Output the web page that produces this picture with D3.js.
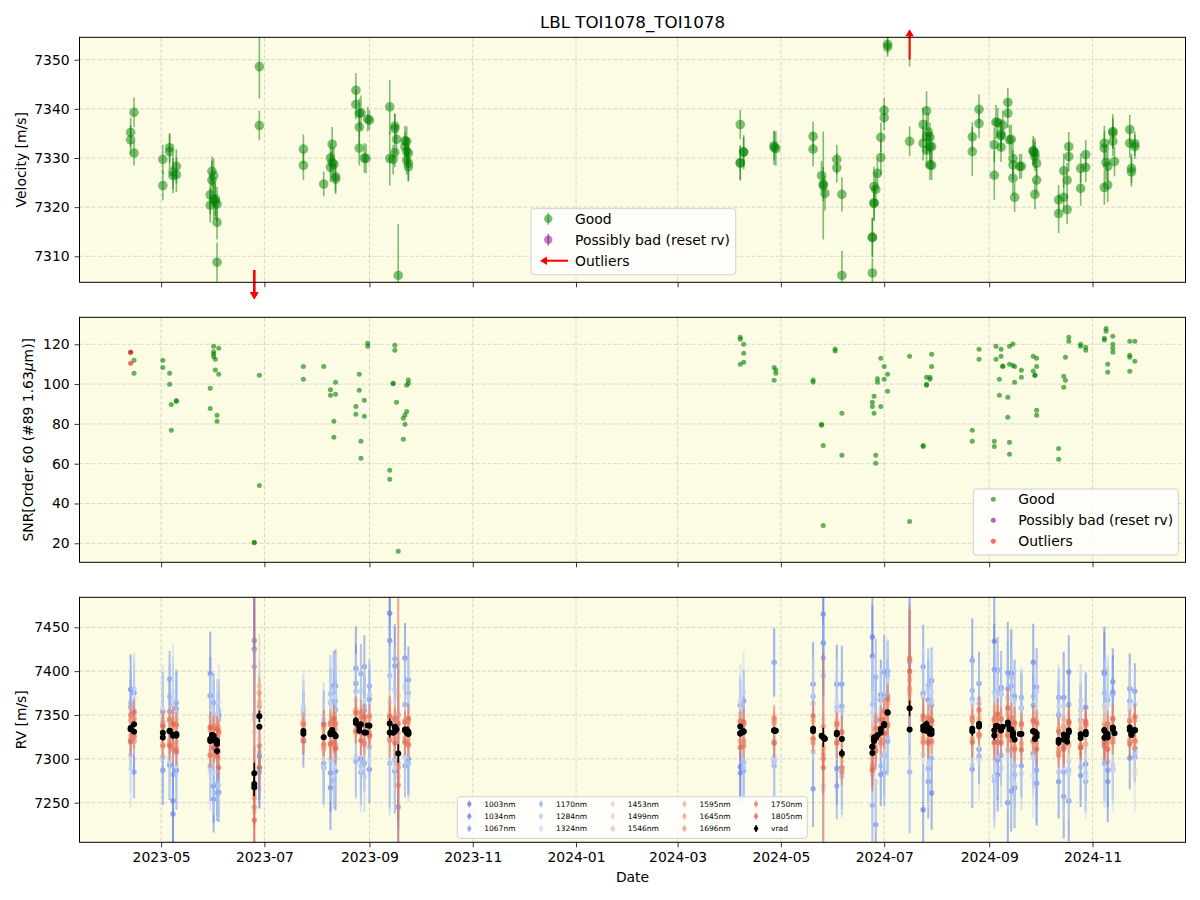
<!DOCTYPE html>
<html>
<head>
<meta charset="utf-8">
<title>LBL TOI1078_TOI1078</title>
<script src="https://cdn.jsdelivr.net/npm/d3@7"></script>
<style>
  body { margin: 0; background: #fff; }
  svg text { font-family: "DejaVu Sans", sans-serif; }
</style>
</head>
<body>
<svg id="chart" width="1200" height="900"></svg>
<script>
/* global d3 */

// ---- panel 1 : velocity, good points ----
var goodDate = [
  "2023-04-13","2023-04-13","2023-04-15","2023-04-15",
  "2023-05-02","2023-05-02","2023-05-06","2023-05-06","2023-05-08","2023-05-08","2023-05-10","2023-05-10",
  "2023-05-30","2023-05-30","2023-05-31","2023-05-31","2023-06-01","2023-06-01","2023-06-02","2023-06-02","2023-06-03","2023-06-03","2023-06-03",
  "2023-06-28","2023-06-28",
  "2023-07-24","2023-07-24","2023-08-05","2023-08-09","2023-08-09","2023-08-10","2023-08-10","2023-08-11","2023-08-12","2023-08-12",
  "2023-08-24","2023-08-24","2023-08-26","2023-08-27","2023-08-26","2023-08-26","2023-08-29","2023-08-30","2023-08-31","2023-09-01",
  "2023-09-13","2023-09-13","2023-09-15","2023-09-16","2023-09-16","2023-09-16","2023-09-17","2023-09-18",
  "2023-09-22","2023-09-22","2023-09-23","2023-09-23","2023-09-23","2023-09-24","2023-09-24","2023-09-24",
  "2024-04-07","2024-04-07","2024-04-07","2024-04-09","2024-04-09","2024-04-27","2024-04-27","2024-04-28",
  "2024-05-20","2024-05-20","2024-05-25","2024-05-26","2024-05-26","2024-05-27",
  "2024-06-03","2024-06-03","2024-06-06","2024-06-06",
  "2024-06-24","2024-06-24","2024-06-24","2024-06-25","2024-06-25","2024-06-25","2024-06-26","2024-06-27",
  "2024-06-29","2024-06-29","2024-07-01","2024-07-01","2024-07-03","2024-07-03","2024-07-16",
  "2024-07-24","2024-07-24","2024-07-26","2024-07-26","2024-07-27","2024-07-26","2024-07-28","2024-07-28","2024-07-29","2024-07-28","2024-07-29",
  "2024-08-22","2024-08-22","2024-08-26","2024-08-26",
  "2024-09-04","2024-09-04","2024-09-05","2024-09-06","2024-09-08","2024-09-08","2024-09-09","2024-09-08",
  "2024-09-12","2024-09-12","2024-09-13","2024-09-14","2024-09-15","2024-09-15","2024-09-15","2024-09-16","2024-09-19","2024-09-20",
  "2024-09-27","2024-09-27","2024-09-28","2024-09-28","2024-09-29","2024-09-29","2024-09-28",
  "2024-10-12","2024-10-12","2024-10-15","2024-10-15","2024-10-17","2024-10-17","2024-10-18","2024-10-18",
  "2024-10-25","2024-10-25","2024-10-28","2024-10-28",
  "2024-11-08","2024-11-08","2024-11-08","2024-11-09","2024-11-10","2024-11-10","2024-11-13","2024-11-13","2024-11-14","2024-11-13",
  "2024-11-23","2024-11-23","2024-11-24","2024-11-24","2024-11-26","2024-11-26"
];
var goodRV = [
  7335.2,7333.7,7339.3,7331.0,
  7329.7,7324.4,7332.1,7331.3,7327.2,7326.4,7328.3,7326.6,
  7322.5,7320.4,7325.5,7327.3,7326.4,7321.5,7321.1,7321.7,7320.6,7316.9,7308.8,
  7348.6,7336.6,
  7331.8,7328.5,7324.7,7330.0,7328.1,7329.1,7332.8,7328.7,7326.2,7325.7,
  7343.8,7340.9,7339.1,7339.2,7336.3,7332.0,7330.0,7329.9,7337.9,7337.7,
  7340.4,7329.9,7329.7,7336.0,7336.5,7331.1,7333.8,7306.1,
  7333.5,7332.3,7331.3,7333.4,7329.6,7328.9,7331.0,7328.2,
  7336.8,7329.1,7328.9,7331.2,7331.2,7332.5,7332.1,7331.9,
  7334.4,7331.8,7326.4,7324.7,7324.4,7322.8,
  7329.7,7328.0,7322.6,7306.1,
  7313.9,7313.8,7306.6,7320.9,7320.7,7324.2,7323.6,7326.9,
  7330.1,7334.2,7339.7,7338.2,7352.6,7353.1,7333.4,
  7336.8,7333.0,7339.6,7334.3,7335.3,7331.6,7334.2,7332.3,7332.3,7328.6,7328.5,
  7334.3,7331.3,7339.9,7337.0,
  7332.7,7326.5,7337.3,7337.2,7334.5,7332.2,7336.7,7334.9,
  7341.3,7339.1,7333.7,7333.8,7329.9,7325.9,7328.6,7322.0,7328.3,7328.3,
  7331.3,7331.5,7331.0,7330.3,7328.9,7325.5,7322.6,
  7321.5,7318.7,7327.4,7322.0,7319.5,7325.5,7332.3,7330.3,
  7327.9,7323.8,7330.7,7328.1,
  7332.0,7333.0,7324.0,7329.1,7328.3,7324.5,7335.4,7333.4,7329.3,7335.1,
  7335.8,7333.0,7327.9,7327.2,7332.9,7332.3
];
var goodErr = [
  3,3,3,2.5,
  3,3,3,3.5,3.5,3.5,3.5,3.5,
  4,3.5,4,3,3.5,4,3.5,3.5,3.5,3.5,4,
  6.5,3,
  3,3,2.5,3,3,3,3.5,3.5,3,3,
  3.5,3,3,3.5,3.5,3.5,3,3,2.5,2,
  5.5,5.5,3,3,2.5,3,3,10.5,
  3,3,3,3,3,3.5,3,3,
  3,3.5,3.5,3,3.5,3,3.5,3.5,
  3,3.5,3,3.5,11,3.5,
  3,3,3.5,5,
  4,4,3,3.5,3.5,4,3.5,3,
  3.5,3,2.5,2.5,2,2,3,
  3.5,3.5,4,3.5,4,3.5,3,3,3,3,3,
  3,5,3,3,
  3.5,5,3.5,3,3,3,3,3,
  3,3,3,3,3,3.5,3,3,2.5,2.5,
  2.5,3,3,3,3,3,3,
  3,4,3.5,3,3,3.5,3,3,
  3,3.5,3,3,
  3.5,3.5,3.5,3.5,3,3.5,3.5,3,3,3,
  3,3,3,3,2.5,2.5
];

// ---- outliers (outside the velocity window) ----
var outDate = ["2023-06-25","2023-06-25","2023-06-25","2024-07-16"];
var outRV = [7271.3, 7267.5, 7283.5, 7357.6];
var outErr = [14, 10, 12, 9];

// ---- panel 2 : SNR ----
var snrDate = [
  "2023-04-13","2023-04-15","2023-04-15","2023-05-02","2023-05-02","2023-05-06","2023-05-06","2023-05-07","2023-05-07",
  "2023-05-10","2023-05-10","2023-05-30","2023-05-30","2023-06-01","2023-06-01","2023-06-01","2023-06-01","2023-06-02","2023-06-02",
  "2023-06-03","2023-06-03","2023-06-04","2023-06-04","2023-06-25","2023-06-25","2023-06-28","2023-06-28","2023-07-24","2023-07-24",
  "2023-08-05","2023-08-09","2023-08-09","2023-08-11","2023-08-11","2023-08-12","2023-08-12","2023-08-24","2023-08-24",
  "2023-08-26","2023-08-26","2023-08-27","2023-08-27","2023-08-29","2023-08-29","2023-08-31","2023-08-31",
  "2023-09-13","2023-09-13","2023-09-15","2023-09-15","2023-09-16","2023-09-16","2023-09-17","2023-09-18",
  "2023-09-21","2023-09-21","2023-09-22","2023-09-22","2023-09-23","2023-09-23","2023-09-24","2023-09-24",
  "2024-04-07","2024-04-07","2024-04-07","2024-04-09","2024-04-09","2024-04-09","2024-04-27","2024-04-27","2024-04-28","2024-04-28",
  "2024-05-20","2024-05-20","2024-05-25","2024-05-25","2024-05-26","2024-05-26","2024-06-02","2024-06-02","2024-06-06","2024-06-06",
  "2024-06-24","2024-06-24","2024-06-25","2024-06-25","2024-06-26","2024-06-26","2024-06-27","2024-06-27","2024-06-29","2024-06-29",
  "2024-07-01","2024-07-01","2024-07-03","2024-07-03","2024-07-16","2024-07-16","2024-07-24","2024-07-24",
  "2024-07-26","2024-07-26","2024-07-26","2024-07-28","2024-07-28","2024-07-29","2024-07-29",
  "2024-08-22","2024-08-22","2024-08-26","2024-08-26",
  "2024-09-04","2024-09-04","2024-09-05","2024-09-05","2024-09-07","2024-09-07","2024-09-08","2024-09-08","2024-09-09","2024-09-09",
  "2024-09-12","2024-09-12","2024-09-13","2024-09-13","2024-09-13","2024-09-13","2024-09-15","2024-09-15","2024-09-16","2024-09-16",
  "2024-09-20","2024-09-20","2024-09-27","2024-09-27","2024-09-28","2024-09-28","2024-09-29","2024-09-29","2024-09-29","2024-09-29",
  "2024-10-12","2024-10-12","2024-10-15","2024-10-15","2024-10-16","2024-10-16","2024-10-18","2024-10-18",
  "2024-10-25","2024-10-25","2024-10-28","2024-10-28",
  "2024-11-08","2024-11-08","2024-11-09","2024-11-09","2024-11-10","2024-11-10","2024-11-13","2024-11-13","2024-11-13","2024-11-13",
  "2024-11-23","2024-11-23","2024-11-23","2024-11-23","2024-11-26","2024-11-26"
];
var snrValue = [
  116.0,112.0,105.4,112.0,108.4,105.4,99.9,89.8,76.8,
  91.7,91.2,97.9,87.8,119.0,116.3,115.1,113.8,112.5,107.1,
  84.3,81.3,118.0,104.9,20.5,20.3,49.1,104.4,108.9,102.4,
  108.9,97.1,94.4,81.3,73.3,94.9,100.9,88.8,84.8,
  104.9,96.9,71.3,62.7,91.9,83.8,120.5,119.0,
  56.7,52.2,100.4,100.2,119.5,117.0,90.9,16.0,
  72.3,82.8,84.5,79.8,86.2,99.4,100.4,102.1,
  110.0,122.5,123.5,120.0,115.5,111.0,108.4,101.9,107.1,105.4,
  102.1,101.1,79.8,79.3,69.2,29.0,117.7,116.6,85.3,64.2,
  90.9,88.8,93.9,85.3,64.2,60.2,102.7,100.9,113.0,88.8,
  108.9,102.4,104.9,96.4,114.0,31.0,69.2,68.7,
  103.4,99.9,99.4,103.4,102.4,115.0,108.9,
  76.8,71.3,117.5,112.5,
  71.3,68.7,119.0,112.5,94.4,102.4,117.5,114.0,109.1,108.8,
  93.4,83.3,70.8,64.7,119.0,110.0,120.2,109.3,108.9,100.9,
  106.9,103.4,114.0,106.6,104.6,104.3,113.0,108.9,86.8,84.3,
  67.7,62.2,103.9,98.4,101.9,113.5,123.5,121.5,
  120.0,119.0,118.5,117.0,
  123.0,122.2,128.0,126.5,110.0,106.0,124.0,120.0,118.0,116.0,
  121.5,114.5,113.5,106.4,121.5,111.5
];
var snrOutDate = ["2023-04-13","2023-04-13"];
var snrOutValue = [116.0, 110.5];

// ---- panel 3 : per-wavelength RVs, one point per night ----
var bandDate = [
  "2023-04-13","2023-04-15","2023-05-02","2023-05-06","2023-05-08","2023-05-10","2023-05-30","2023-06-01","2023-06-03","2023-06-04",
  "2023-06-25","2023-06-28","2023-07-24","2023-08-05","2023-08-09","2023-08-11","2023-08-12","2023-08-24","2023-08-27","2023-08-29",
  "2023-09-01","2023-09-13","2023-09-16","2023-09-18","2023-09-22","2023-09-24",
  "2024-04-07","2024-04-09","2024-04-27","2024-05-20","2024-05-26","2024-06-03","2024-06-06","2024-06-24","2024-06-26","2024-06-29",
  "2024-07-01","2024-07-03","2024-07-16","2024-07-24","2024-07-27","2024-07-29","2024-08-22","2024-08-26","2024-09-04","2024-09-06",
  "2024-09-08","2024-09-12","2024-09-14","2024-09-16","2024-09-20","2024-09-27","2024-09-29","2024-10-12","2024-10-15","2024-10-18",
  "2024-10-25","2024-10-28","2024-11-08","2024-11-10","2024-11-13","2024-11-23","2024-11-26"
];
var bandCenter = [
  7334,7335,7327,7331,7327,7327,7322,7324,7316,7320,
  7290,7335,7330,7325,7329,7330,7326,7342,7337,7330,
  7338,7335,7334,7310,7332,7330,
  7331,7331,7332,7333,7325,7329,7315,7312,7323,7332,
  7339,7350,7345,7335,7334,7331,7333,7338,7330,7337,
  7334,7340,7333,7327,7328,7331,7327,7320,7325,7327,
  7326,7329,7330,7327,7333,7331,7332
];
var bandName = ["1003nm","1034nm","1067nm","1170nm","1284nm","1324nm","1453nm","1499nm","1546nm","1595nm","1645nm","1696nm","1750nm","1805nm"];

var dev1003 = [45,-15,27,-38,-75,-40,75,-55,-5,30,145,-32,12,-35,-62,53,-40,61,-37,25,-50,131,-48,-20,83,-30,-40,8,-35,52,107,56,-25,127,-98,41,-35,22,67,-93,33,-70,79,-27,104,-38,47,-90,65,-60,30,79,-55,-46,45,-75,18,-35,69,-53,43,49,-20];
var dev1034 = [-12,40,-40,23,-90,30,50,-70,22,-58,135,-45,-8,15,-45,35,57,44,-52,75,30,100,72,-65,-40,60,-47,35,78,-67,140,-40,70,105,20,-50,60,-30,35,70,-60,58,-45,48,72,-55,40,58,-70,44,-36,-25,55,30,-68,72,-45,30,67,-40,55,-30,45];
var dev1067 = [25,-50,15,60,-45,37,-30,40,-55,25,115,-50,20,-30,35,-55,30,-45,60,-35,45,-40,80,40,30,-35,30,-45,-40,38,90,-60,45,-65,70,35,-55,50,-60,40,-45,30,45,-35,-50,64,-30,40,50,-45,42,30,-40,50,-40,35,30,-55,-35,40,-45,35,-30];
var dev1170 = [30,20,-25,40,35,-20,50,25,-45,35,60,-28,25,-35,45,-30,40,35,-45,30,-25,60,-35,40,-30,45,30,-35,78,-25,70,30,-35,50,25,-40,30,45,65,38,50,-30,35,25,-55,40,45,-30,60,-35,30,40,-55,30,20,-40,-35,30,45,-30,40,35,-25];
var dev1284 = [-30,45,20,-35,40,25,-35,20,35,-50,55,18,30,20,-30,50,-25,-40,40,-50,35,-40,45,-30,50,-35,20,-40,-30,30,-55,25,40,-30,45,20,30,-25,50,-30,45,35,-40,30,45,-35,-45,30,-55,40,-45,-30,50,-35,35,-30,40,-45,30,45,-40,25,30];
var dev1324 = [-45,35,30,-30,50,-35,25,-40,30,45,-50,25,18,-35,35,-40,45,25,-50,35,-40,30,-45,35,-30,40,35,45,-35,30,-60,35,-30,40,-50,25,-35,40,-45,35,-40,45,30,-40,-50,30,40,-35,35,-55,30,-50,25,40,-35,-45,30,-50,-30,35,-45,30,-50];
var dev1453 = [10,-15,12,-8,20,-12,15,-10,18,-20,55,-12,15,-10,12,-18,10,14,-16,12,-10,18,-15,20,-12,10,15,-10,12,-15,20,-12,10,15,-14,12,-10,18,20,-15,12,-10,14,-12,10,16,-14,12,-10,15,-12,10,18,-12,14,-10,16,-12,10,-15,12,-10,-45];
var dev1499 = [-12,18,-10,15,-14,10,-18,12,-15,10,40,15,-10,12,-15,14,-12,10,16,-14,12,-10,15,-20,12,-15,10,-12,15,-10,12,15,-18,10,12,-15,14,-10,28,12,-14,10,-12,15,-16,12,10,-14,15,-12,10,-15,12,14,-12,10,-14,12,15,-10,-12,14,-8];
var dev1546 = [14,-10,15,-12,10,18,-14,12,-10,16,-30,48,12,-15,10,-12,14,-10,12,15,-14,10,-12,62,-10,14,-12,10,-14,12,-10,8,14,-12,10,-15,12,14,35,-10,12,-14,10,-12,14,10,-12,15,-10,12,-14,10,-12,14,10,-12,15,10,-14,12,-10,14,12];
var dev1595 = [-8,12,10,-10,14,-8,10,12,-12,8,-20,30,10,-8,12,-10,8,14,-10,12,8,-12,10,40,12,-8,10,-12,8,10,-14,12,-8,-12,10,8,-10,12,30,10,-12,8,12,-10,10,-8,12,10,-12,8,10,-10,12,-8,10,12,-10,8,-12,10,8,-10,12];
var dev1645 = [10,-8,-12,12,8,-14,12,-10,10,-12,-25,25,-8,10,-12,10,-14,8,12,-10,-8,12,-10,20,-8,12,-10,8,-12,-10,12,-8,-12,14,-10,12,8,-10,45,-12,8,12,-10,8,-12,14,-8,-10,12,-14,-10,12,-8,-12,12,-10,8,-12,10,-8,12,-10,-14];
var dev1696 = [-15,10,12,-14,-10,12,-18,14,-12,10,-35,40,8,-12,10,14,-10,-12,10,14,-12,8,12,-15,10,-14,12,-10,10,-15,-20,10,-25,-18,12,-10,14,-12,55,10,-14,12,10,-12,14,-10,12,-14,10,-16,12,-10,14,-12,-10,14,-12,10,-14,12,-10,12,-12];
var dev1750 = [16,-10,-12,14,-16,12,-18,10,-14,12,-45,-20,10,-8,12,-11,14,-10,16,-13,11,-14,12,-40,10,-14,12,-16,14,-10,-25,11,-30,-22,12,-14,16,-12,70,-16,13,-11,14,-10,16,-18,11,-13,14,-16,12,-11,14,-16,-12,14,-13,11,-16,13,-14,12,-11];
var dev1805 = [-14,18,10,-16,13,-18,14,-12,18,-30,-60,-45,-10,14,-12,16,-14,11,-16,18,-11,14,-16,30,-13,16,-18,11,-14,16,-35,-11,16,-25,-14,13,-10,18,55,14,-16,13,-14,18,-11,14,-16,18,-12,14,-18,13,-16,11,-14,16,-13,14,-11,-16,13,-14,16];

var err1003 = [40,38,45,40,52,45,48,42,40,38,85,50,36,42,48,40,45,48,42,40,38,62,48,70,40,42,36,40,42,48,60,45,48,62,52,40,46,42,80,52,46,42,48,40,56,46,42,62,50,46,40,44,48,42,52,46,40,42,52,46,42,40,36];
var err1034 = [36,34,40,36,48,42,44,38,36,34,80,46,32,38,44,36,42,44,38,36,34,58,44,66,36,38,32,36,38,44,56,42,44,58,48,36,42,38,76,48,42,38,44,36,52,42,38,58,46,42,36,40,44,38,48,42,36,38,48,42,38,36,32];
var err1067 = [32,30,36,32,44,38,40,34,32,30,72,42,28,34,40,32,38,40,34,32,30,52,40,60,32,34,28,32,34,40,50,38,40,52,44,32,38,34,70,44,38,34,40,32,48,38,34,52,42,38,32,36,40,34,44,38,32,34,44,38,34,32,28];
var err1170 = [38,36,42,38,46,40,42,40,36,36,76,44,34,38,44,38,40,44,40,36,36,56,44,62,38,40,34,38,40,44,58,42,44,56,48,38,42,40,72,48,42,40,44,38,52,42,40,56,48,42,38,40,44,40,48,42,38,40,48,42,40,38,34];
var err1284 = [42,40,46,42,50,44,46,44,40,40,80,48,38,42,48,42,44,48,44,40,40,60,48,66,42,44,38,42,44,48,62,46,48,60,52,42,46,44,76,52,46,44,48,42,56,46,44,60,52,46,42,44,48,44,52,46,42,44,52,46,44,42,38];
var err1324 = [46,44,50,46,54,48,50,48,44,44,84,52,42,46,52,46,48,52,48,44,44,64,52,70,46,48,42,46,48,52,66,50,52,64,56,46,50,48,80,56,50,48,52,46,60,50,48,64,56,50,46,48,52,48,56,50,46,48,56,50,48,46,42];
var err1453 = [18,16,20,18,22,18,20,18,16,16,45,22,15,18,20,16,18,20,18,16,16,26,20,32,16,18,15,16,18,20,28,18,20,26,24,16,20,18,36,24,20,18,20,16,24,20,18,26,22,20,16,18,20,18,24,20,16,18,24,20,18,16,15];
var err1499 = [15,14,17,15,18,15,17,15,14,14,40,18,12,15,17,14,15,17,15,14,14,22,17,28,14,15,12,14,15,17,24,15,17,22,20,14,17,15,30,20,17,15,17,14,21,17,15,22,18,17,14,15,17,15,20,17,14,15,20,17,15,14,12];
var err1546 = [13,12,15,13,16,13,15,13,12,12,36,60,11,13,15,12,13,15,13,12,12,20,15,28,12,13,11,12,13,15,22,13,15,20,18,12,15,13,30,18,15,13,15,12,19,15,13,20,16,15,12,13,15,13,18,15,12,13,18,15,13,12,11];
var err1595 = [10,9,11,10,12,10,11,10,9,9,30,16,9,10,11,9,10,11,10,9,9,15,11,22,9,10,9,9,10,11,18,10,11,15,14,9,11,10,26,14,11,10,11,9,14,11,10,15,12,11,9,10,11,10,14,11,9,10,14,11,10,9,9];
var err1645 = [10,9,11,10,12,10,11,10,9,9,28,15,9,10,11,9,10,11,10,9,9,15,11,20,9,10,9,9,10,11,17,10,11,15,13,9,11,10,24,13,11,10,11,9,14,11,10,15,12,11,9,10,11,10,13,11,9,10,13,11,10,9,9];
var err1696 = [11,10,12,11,14,11,12,11,10,10,32,18,10,11,12,10,11,12,11,10,10,17,12,24,10,11,10,10,11,12,20,11,12,17,15,10,12,11,28,15,12,11,12,10,15,12,11,17,14,12,10,11,12,11,15,12,10,11,15,12,11,10,10];
var err1750 = [14,13,15,14,17,14,15,14,13,13,70,22,13,14,15,13,14,15,14,13,13,20,15,40,13,14,13,13,14,15,40,14,15,21,18,13,15,14,60,18,15,14,15,13,18,15,14,20,17,15,13,14,15,14,18,15,13,14,18,15,14,13,13];
var err1805 = [17,15,18,17,20,17,18,17,15,15,300,26,15,17,18,15,17,18,17,15,15,23,18,300,15,17,15,15,17,18,130,17,18,24,21,15,18,17,70,21,18,17,18,15,21,18,17,23,20,18,15,17,18,17,21,18,15,17,21,18,17,15,15];

// ---- ticks ----
var xTickLabels = ["2023-05","2023-07","2023-09","2023-11","2024-01","2024-03","2024-05","2024-07","2024-09","2024-11"];
var velTicks = [7310, 7320, 7330, 7340, 7350];
var snrTicks = [20, 40, 60, 80, 100, 120];
var rvTicks = [7250, 7300, 7350, 7400, 7450];

// kleuren per golflengte (coolwarm achtig)
var bandColor = ["#5a78e4","#6484ea","#7b98f0","#94b2f7","#b3caf6","#cbd8f0","#e6d3cc","#eccbbd","#f1bea8","#f4b198","#f3a286","#ee9377","#e57a62","#dc6452"];

var parseDay = d3.utcParse("%Y-%m-%d"),
    parseMonth = d3.utcParse("%Y-%m");

var svg = d3.select("#chart"),
    left = 79.5,
    right = 1185.5,
    bg = "#fcfbe3",
    fontSize = "13.9px";

var x = d3.scaleUtc()
    .domain([new Date(Date.UTC(2023, 2, 13, 19)), new Date(Date.UTC(2024, 11, 25, 22))])
    .range([left, right]);

var xTicks = xTickLabels.map(parseMonth);

var panels = [
    { top: 37.3, bottom: 282.3, domain: [7304.71, 7354.56], ticks: velTicks, label: "Velocity [m/s]", labelX: 21 },
    { top: 317.3, bottom: 562.3, domain: [10.45, 133.57], ticks: snrTicks, label: null, labelX: 28 },
    { top: 597.3, bottom: 842.3, domain: [7204.8, 7484.2], ticks: rvTicks, label: "RV [m/s]", labelX: 21 }
];

panels.forEach(function (p, i) {
    p.y = d3.scaleLinear().domain(p.domain).range([p.bottom, p.top]);

    var g = svg.append("g");
    g.append("rect")
        .attr("x", left).attr("y", p.top)
        .attr("width", right - left).attr("height", p.bottom - p.top)
        .attr("fill", bg);

    // grid
    g.selectAll(".vgrid").data(xTicks).enter().append("line")
        .attr("x1", function (d) { return x(d); })
        .attr("x2", function (d) { return x(d); })
        .attr("y1", p.top).attr("y2", p.bottom)
        .attr("stroke", "#b0b0b0").attr("stroke-opacity", 0.6)
        .attr("stroke-width", 0.8).attr("stroke-dasharray", "4,2");
    g.selectAll(".hgrid").data(p.ticks).enter().append("line")
        .attr("x1", left).attr("x2", right)
        .attr("y1", function (d) { return p.y(d); })
        .attr("y2", function (d) { return p.y(d); })
        .attr("stroke", "#b0b0b0").attr("stroke-opacity", 0.6)
        .attr("stroke-width", 0.8).attr("stroke-dasharray", "4,2");

    svg.append("clipPath").attr("id", "clip" + i)
        .append("rect")
        .attr("x", left).attr("y", p.top)
        .attr("width", right - left).attr("height", p.bottom - p.top);

    p.plot = svg.append("g").attr("clip-path", "url(#clip" + i + ")");
});

function styleAxis(ax) {
    ax.select(".domain").remove();
    ax.selectAll("line").attr("stroke", "#000").attr("stroke-width", 0.8);
    ax.selectAll("text")
        .attr("font-family", "DejaVu Sans, sans-serif")
        .attr("font-size", fontSize)
        .attr("fill", "#000");
}

function errorBars(g, data, y, color, opacity, width) {
    g.append("g").selectAll("line").data(data).enter().append("line")
        .attr("x1", function (d) { return x(d.date); })
        .attr("x2", function (d) { return x(d.date); })
        .attr("y1", function (d) { return y(d.v - d.e); })
        .attr("y2", function (d) { return y(d.v + d.e); })
        .attr("stroke", color)
        .attr("stroke-opacity", opacity)
        .attr("stroke-width", width);
}

function dots(g, data, y, color, opacity, r) {
    g.append("g").selectAll("circle").data(data).enter().append("circle")
        .attr("cx", function (d) { return x(d.date); })
        .attr("cy", function (d) { return y(d.v); })
        .attr("r", r)
        .attr("fill", color)
        .attr("fill-opacity", opacity);
}

// ---------- panel 1 ----------
var p1 = panels[0];
var good = goodDate.map(function (d, i) {
    return { date: parseDay(d), v: goodRV[i], e: goodErr[i] };
});
var outl = outDate.map(function (d, i) {
    return { date: parseDay(d), v: outRV[i], e: outErr[i] };
});

errorBars(p1.plot, good.concat(outl), p1.y, "green", 0.5, 1.6);
dots(p1.plot, good, p1.y, "green", 0.5, 4.8);

// pijlen voor de outliers buiten het venster
var span1 = p1.domain[1] - p1.domain[0];
outl.forEach(function (d) {
    var px = x(d.date), y0, y1, dir;
    if (d.v < p1.domain[0]) {
        y0 = p1.y(p1.domain[0] + 0.05 * span1); y1 = p1.bottom + 17; dir = 1;
    } else {
        y0 = p1.y(p1.domain[1] - 0.09 * span1); y1 = p1.top - 8; dir = -1;
    }
    svg.append("line")
        .attr("x1", px).attr("x2", px)
        .attr("y1", y0).attr("y2", y1 - dir * 6)
        .attr("stroke", "red").attr("stroke-width", 2);
    svg.append("path")
        .attr("d", "M" + (px - 4.2) + "," + (y1 - dir * 7) + "L" + (px + 4.2) + "," + (y1 - dir * 7) + "L" + px + "," + y1 + "Z")
        .attr("fill", "red");
});

// ---------- panel 2 ----------
var p2 = panels[1];
var snr = snrDate.map(function (d, i) { return { date: parseDay(d), v: snrValue[i] }; });
var snrOut = snrOutDate.map(function (d, i) { return { date: parseDay(d), v: snrOutValue[i] }; });
dots(p2.plot, snr, p2.y, "green", 0.6, 2.5);
dots(p2.plot, snrOut, p2.y, "red", 0.6, 2.5);

// ---------- panel 3 ----------
var p3 = panels[2];
var bands = [
    { name: bandName[0], dev: dev1003, err: err1003 },
    { name: bandName[1], dev: dev1034, err: err1034 },
    { name: bandName[2], dev: dev1067, err: err1067 },
    { name: bandName[3], dev: dev1170, err: err1170 },
    { name: bandName[4], dev: dev1284, err: err1284 },
    { name: bandName[5], dev: dev1324, err: err1324 },
    { name: bandName[6], dev: dev1453, err: err1453 },
    { name: bandName[7], dev: dev1499, err: err1499 },
    { name: bandName[8], dev: dev1546, err: err1546 },
    { name: bandName[9], dev: dev1595, err: err1595 },
    { name: bandName[10], dev: dev1645, err: err1645 },
    { name: bandName[11], dev: dev1696, err: err1696 },
    { name: bandName[12], dev: dev1750, err: err1750 },
    { name: bandName[13], dev: dev1805, err: err1805 }
];

bands.forEach(function (b, k) {
    var pts = bandDate.map(function (d, i) {
        return { date: parseDay(d), v: bandCenter[i] + b.dev[i], e: b.err[i] };
    });
    var g = p3.plot.append("g");
    errorBars(g, pts, p3.y, bandColor[k], 0.55, 2);
    dots(g, pts, p3.y, bandColor[k], 0.65, 2.7);
});

var vrad = good.concat(outl);
errorBars(p3.plot, vrad, p3.y, "#000", 1, 1.5);
dots(p3.plot, vrad, p3.y, "#000", 1, 3);

// ---------- frames + axes ----------
panels.forEach(function (p, i) {
    svg.append("rect")
        .attr("x", left).attr("y", p.top)
        .attr("width", right - left).attr("height", p.bottom - p.top)
        .attr("fill", "none").attr("stroke", "#000").attr("stroke-width", 1);

    var ax = svg.append("g")
        .attr("transform", "translate(0," + p.bottom + ")")
        .call(d3.axisBottom(x).tickValues(xTicks)
            .tickFormat(i === 2 ? d3.utcFormat("%Y-%m") : "")
            .tickSize(5).tickPadding(4.9));
    styleAxis(ax);

    var ay = svg.append("g")
        .attr("transform", "translate(" + left + ",0)")
        .call(d3.axisLeft(p.y).tickValues(p.ticks).tickFormat(d3.format("d"))
            .tickSize(5).tickPadding(4.9));
    styleAxis(ay);

    var lab = svg.append("text")
        .attr("transform", "translate(" + p.labelX + "," + ((p.top + p.bottom) / 2) + ") rotate(-90)")
        .attr("text-anchor", "middle")
        .attr("dy", "0.35em")
        .attr("font-size", fontSize);
    if (p.label) {
        lab.text(p.label);
    } else {
        lab.append("tspan").text("SNR[Order 60 (#89 1.63");
        lab.append("tspan").attr("font-style", "italic").text("\u03bc");
        lab.append("tspan").text("m)]");
    }
});

// titel en x label
svg.append("text")
    .attr("x", (left + right) / 2).attr("y", 28)
    .attr("text-anchor", "middle")
    .attr("font-size", "16.7px")
    .text("LBL TOI1078_TOI1078");

svg.append("text")
    .attr("x", (left + right) / 2).attr("y", 882)
    .attr("text-anchor", "middle")
    .attr("font-size", fontSize)
    .text("Date");

// ---------- legends ----------
function legendBox(x0, y0, w, h) {
    svg.append("rect")
        .attr("x", x0).attr("y", y0).attr("width", w).attr("height", h)
        .attr("rx", 3)
        .attr("fill", "#fff").attr("fill-opacity", 0.8)
        .attr("stroke", "#d0d0d0").attr("stroke-width", 1);
}

// legend panel 1
legendBox(531, 208.7, 204.7, 66);
[["Good", "green"], ["Possibly bad (reset rv)", "purple"]].forEach(function (it, i) {
    var yy = 218.7 + i * 21;
    svg.append("line").attr("x1", 548.3).attr("x2", 548.3).attr("y1", yy - 6).attr("y2", yy + 6)
        .attr("stroke", it[1]).attr("stroke-opacity", 0.5).attr("stroke-width", 1.6);
    svg.append("circle").attr("cx", 548.3).attr("cy", yy).attr("r", 4.2)
        .attr("fill", it[1]).attr("fill-opacity", 0.5);
    svg.append("text").attr("x", 575).attr("y", yy).attr("dy", "0.35em")
        .attr("font-size", fontSize).text(it[0]);
});
svg.append("line").attr("x1", 568).attr("x2", 546).attr("y1", 260.7).attr("y2", 260.7)
    .attr("stroke", "red").attr("stroke-width", 2);
svg.append("path").attr("d", "M540,260.7L547,256.5L547,264.9Z").attr("fill", "red");
svg.append("text").attr("x", 575).attr("y", 260.7).attr("dy", "0.35em")
    .attr("font-size", fontSize).text("Outliers");

// legend panel 2
legendBox(973.3, 489, 205, 66);
[["Good", "green"], ["Possibly bad (reset rv)", "purple"], ["Outliers", "red"]].forEach(function (it, i) {
    var yy = 499.3 + i * 21;
    svg.append("circle").attr("cx", 993.3).attr("cy", yy).attr("r", 2.5)
        .attr("fill", it[1]).attr("fill-opacity", 0.6);
    svg.append("text").attr("x", 1018.3).attr("y", yy).attr("dy", "0.35em")
        .attr("font-size", fontSize).text(it[0]);
});

// legend panel 3
legendBox(457.3, 796.7, 350, 41.6);
var legItems = bandName.map(function (n, k) { return { name: n, color: bandColor[k], op: 0.7 }; })
    .concat([{ name: "vrad", color: "#000", op: 1 }]);
legItems.forEach(function (it, k) {
    var col = Math.floor(k / 3), row = k % 3;
    var mx = 469.3 + col * 71.7, yy = 804 + row * 12.3;
    svg.append("line").attr("x1", mx).attr("x2", mx).attr("y1", yy - 3.5).attr("y2", yy + 3.5)
        .attr("stroke", it.color).attr("stroke-opacity", it.op === 1 ? 1 : 0.6).attr("stroke-width", 1.5);
    svg.append("circle").attr("cx", mx).attr("cy", yy).attr("r", 2.2)
        .attr("fill", it.color).attr("fill-opacity", it.op);
    svg.append("text").attr("x", mx + 15).attr("y", yy).attr("dy", "0.35em")
        .attr("font-size", "7.5px").text(it.name);
});
</script>
</body>
</html>
